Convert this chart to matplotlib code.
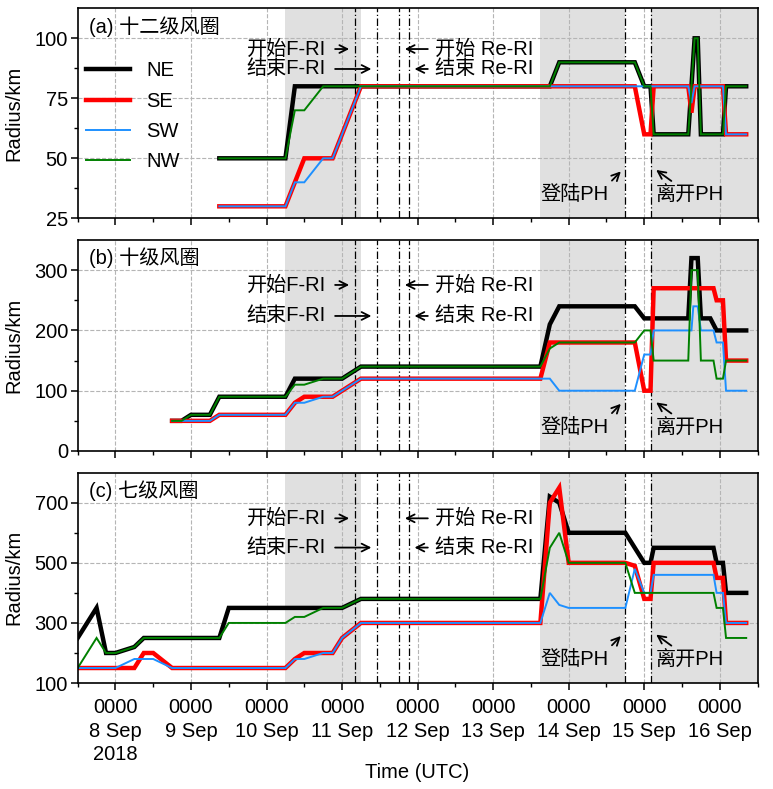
import matplotlib
matplotlib.use("Agg")
import matplotlib.pyplot as plt
import matplotlib.transforms as mtransforms

plt.rcParams['font.family'] = ['Liberation Sans', 'Noto Sans CJK SC', 'DejaVu Sans']
FS = 14.5
plt.rcParams['font.size'] = FS

# x in days since 2018-09-08 00 UTC
# ---------------- panel (a) 十二级风圈 ----------------
a_ne_t = [1.375, 2.25, 2.375, 5.75, 5.875, 6.875, 7.0, 7.083, 7.125, 7.583, 7.667, 7.708, 7.75, 8.042, 8.083, 8.35]
a_ne_r = [50, 50, 80, 80, 90, 90, 80, 80, 60, 60, 100, 100, 60, 60, 80, 80]
a_se_t = [1.375, 2.25, 2.375, 2.5, 2.875, 3.25, 6.875, 7.0, 7.083, 7.125, 7.583, 7.625, 7.667, 8.042, 8.083, 8.35]
a_se_r = [30, 30, 40, 50, 50, 80, 80, 60, 60, 80, 80, 69, 80, 80, 60, 60]
a_sw_t = [1.375, 2.25, 2.375, 2.5, 2.75, 2.875, 3.25, 7.583, 7.625, 7.667, 8.042, 8.083, 8.35]
a_sw_r = [30, 30, 40, 40, 50, 50, 80, 80, 73, 80, 80, 60, 60]
a_nw_t = [1.375, 2.25, 2.375, 2.5, 2.75, 5.75, 5.875, 6.875, 7.0, 7.083, 7.125, 7.583, 7.667, 7.708, 7.75, 8.042, 8.083, 8.35]
a_nw_r = [50, 50, 70, 70, 80, 80, 90, 90, 80, 80, 60, 60, 100, 100, 60, 60, 80, 80]

# ---------------- panel (b) 十级风圈 ----------------
b_ne_t = [0.75, 0.875, 1.0, 1.25, 1.375, 2.25, 2.375, 3.0, 3.25, 5.625, 5.75, 5.875, 6.875, 7.0, 7.583, 7.625, 7.708, 7.75, 7.875, 7.958, 8.35]
b_ne_r = [50, 50, 60, 60, 90, 90, 120, 120, 140, 140, 210, 240, 240, 220, 220, 320, 320, 220, 220, 200, 200]
b_se_t = [0.75, 1.25, 1.375, 2.25, 2.375, 2.5, 2.875, 3.0, 3.25, 5.625, 5.75, 6.875, 7.0, 7.083, 7.125, 7.917, 7.958, 8.042, 8.083, 8.35]
b_se_r = [50, 50, 60, 60, 80, 90, 90, 100, 120, 120, 180, 180, 100, 100, 270, 270, 250, 250, 150, 150]
b_sw_t = [0.75, 1.25, 1.375, 2.25, 2.375, 2.5, 2.75, 2.875, 3.0, 3.25, 5.75, 5.875, 6.875, 7.0, 7.083, 7.125, 7.625, 7.65, 7.708, 7.75, 7.917, 7.958, 8.042, 8.083, 8.35]
b_sw_r = [50, 50, 60, 60, 80, 80, 90, 90, 100, 120, 120, 100, 100, 160, 160, 200, 200, 240, 240, 200, 200, 180, 180, 100, 100]
b_nw_t = [0.75, 0.875, 1.0, 1.25, 1.375, 2.25, 2.375, 2.5, 2.75, 3.0, 3.25, 5.625, 5.75, 5.875, 6.875, 7.0, 7.083, 7.125, 7.583, 7.625, 7.708, 7.75, 7.917, 7.958, 8.042, 8.083, 8.35]
b_nw_r = [50, 50, 60, 60, 90, 90, 110, 110, 120, 120, 140, 140, 170, 180, 180, 200, 200, 150, 150, 300, 300, 150, 150, 120, 120, 150, 150]

# ---------------- panel (c) 七级风圈 ----------------
c_ne_t = [-0.5, -0.25, -0.125, 0.0, 0.25, 0.375, 1.375, 1.5, 3.0, 3.25, 5.625, 5.75, 5.875, 6.0, 6.75, 7.0, 7.083, 7.125, 7.917, 7.958, 8.042, 8.083, 8.35]
c_ne_r = [250, 350, 200, 200, 220, 250, 250, 350, 350, 380, 380, 720, 700, 600, 600, 500, 500, 550, 550, 500, 500, 400, 400]
c_se_t = [-0.5, 0.25, 0.375, 0.5, 0.75, 2.25, 2.375, 2.5, 2.875, 3.0, 3.25, 5.625, 5.75, 5.875, 6.0, 6.75, 6.875, 7.0, 7.083, 7.125, 7.917, 7.958, 8.042, 8.083, 8.35]
c_se_r = [150, 150, 200, 200, 150, 150, 180, 200, 200, 250, 300, 300, 700, 750, 500, 500, 490, 380, 380, 500, 500, 450, 450, 300, 300]
c_sw_t = [-0.5, 0.0, 0.25, 0.5, 0.75, 2.25, 2.375, 2.5, 2.75, 2.875, 3.0, 3.25, 5.625, 5.75, 5.875, 6.0, 6.75, 6.875, 7.0, 7.083, 7.125, 7.917, 7.958, 8.042, 8.083, 8.35]
c_sw_r = [150, 150, 180, 180, 150, 150, 180, 180, 200, 200, 250, 300, 300, 400, 360, 350, 350, 480, 400, 400, 460, 460, 400, 400, 300, 300]
c_nw_t = [-0.5, -0.25, -0.125, 0.0, 0.25, 0.375, 1.375, 1.5, 2.25, 2.375, 2.5, 2.75, 3.0, 3.25, 5.625, 5.75, 5.875, 6.0, 6.75, 6.875, 7.917, 7.958, 8.042, 8.083, 8.35]
c_nw_r = [150, 250, 200, 200, 220, 250, 250, 300, 300, 320, 320, 350, 350, 380, 380, 550, 600, 500, 500, 400, 400, 350, 350, 250, 250]

# events (days since 8 Sep 00 UTC)
fri_start, fri_end = 3.17, 3.46
reri_start, reri_end = 3.75, 3.88
landfall, leave = 6.74, 7.083
shade_spans = [(2.25, 3.25), (5.625, 6.74), (7.083, 8.5)]

day_ticks = [0, 1, 2, 3, 4, 5, 6, 7, 8]
day_labels = ['0000\n8 Sep\n2018', '0000\n9 Sep', '0000\n10 Sep', '0000\n11 Sep', '0000\n12 Sep',
              '0000\n13 Sep', '0000\n14 Sep', '0000\n15 Sep', '0000\n16 Sep']

panel_titles = ['(a) 十二级风圈', '(b) 十级风圈', '(c) 七级风圈']
direction_names = ['NE', 'SE', 'SW', 'NW']
colors = ['black', '#ff0000', '#1e90ff', '#008000']
widths = [3.2, 3.2, 1.4, 1.4]

panels = [
    [(a_ne_t, a_ne_r), (a_se_t, a_se_r), (a_sw_t, a_sw_r), (a_nw_t, a_nw_r)],
    [(b_ne_t, b_ne_r), (b_se_t, b_se_r), (b_sw_t, b_sw_r), (b_nw_t, b_nw_r)],
    [(c_ne_t, c_ne_r), (c_se_t, c_se_r), (c_sw_t, c_sw_r), (c_nw_t, c_nw_r)],
]
ylims = [(25, 112.5), (0, 350), (100, 800)]
ymajor = [[25, 50, 75, 100], [0, 100, 200, 300], [100, 300, 500, 700]]
yminor = [[37.5, 62.5, 87.5], [50, 150, 250], [200, 400, 600]]
ri_text_y = [(0.806, 0.711), (0.787, 0.640), (0.783, 0.644)]

fig = plt.figure(figsize=(7.73, 7.89), dpi=100)
boxes = [(0.1005, 0.7233, 0.8795, 0.2662), (0.1005, 0.4284, 0.8795, 0.2674), (0.1005, 0.1343, 0.8795, 0.2666)]
axes = [fig.add_axes(b) for b in boxes]

arrow_kw = dict(arrowstyle='->', color='black', lw=1.3, mutation_scale=14)

for i, ax in enumerate(axes):
    ax.set_axisbelow(True)
    for (s0, s1) in shade_spans:
        ax.axvspan(s0, s1, color='#e0e0e0', zorder=0.2, lw=0)
    ax.grid(True, which='major', ls='--', color='#b5b5b5', lw=0.8)
    for xv in [fri_start, fri_end, reri_start, reri_end, landfall, leave]:
        ax.axvline(xv, color='black', ls=(0, (6, 2, 1, 2)), lw=0.9, zorder=1.5)
    handles = []
    for j, (t, r) in enumerate(panels[i]):
        h, = ax.plot(t, r, color=colors[j], lw=widths[j], zorder=2 + j * 0.1,
                     solid_joinstyle='miter', label=direction_names[j])
        handles.append(h)
    ax.set_xlim(-0.5, 8.35)
    ax.set_ylim(*ylims[i])
    ax.set_xticks(day_ticks)
    ax.set_xticks([d + 0.5 for d in range(-1, 9)], minor=True)
    ax.set_yticks(ymajor[i])
    ax.set_yticks(yminor[i], minor=True)
    ax.tick_params(axis='both', which='major', direction='out', length=5, width=1.1, labelsize=FS, pad=6)
    ax.tick_params(axis='both', which='minor', direction='out', length=3, width=1.0)
    ax.tick_params(axis='y', which='major', pad=2)
    for sp in ax.spines.values():
        sp.set_linewidth(1.2)
    if i < 2:
        ax.set_xticklabels([])
    else:
        ax.set_xticklabels(day_labels)
        for lab in ax.get_xticklabels():
            lab.set_linespacing(1.3)
        ax.set_xlabel('Time (UTC)', fontsize=FS, labelpad=-1)
    ax.set_ylabel('Radius/km', fontsize=FS, labelpad=8)
    ax.text(0.016, 0.915, panel_titles[i], transform=ax.transAxes, fontsize=FS, va='center', ha='left')

    tr = mtransforms.blended_transform_factory(ax.transData, ax.transAxes)
    y1, y2 = ri_text_y[i]
    ax.text(2.784, y1, '开始F-RI', transform=tr, ha='right', va='center', fontsize=FS)
    ax.text(2.784, y2, '结束F-RI', transform=tr, ha='right', va='center', fontsize=FS)
    ax.annotate('', xy=(3.131, y1), xytext=(2.871, y1), xycoords=tr, textcoords=tr, arrowprops=arrow_kw)
    ax.annotate('', xy=(3.425, y2), xytext=(2.871, y2), xycoords=tr, textcoords=tr, arrowprops=arrow_kw)
    ax.text(4.228, y1, '开始 Re-RI', transform=tr, ha='left', va='center', fontsize=FS)
    ax.text(4.228, y2, '结束 Re-RI', transform=tr, ha='left', va='center', fontsize=FS)
    ax.annotate('', xy=(3.794, y1), xytext=(4.172, y1), xycoords=tr, textcoords=tr, arrowprops=arrow_kw)
    ax.annotate('', xy=(3.922, y2), xytext=(4.172, y2), xycoords=tr, textcoords=tr, arrowprops=arrow_kw)

    ax.text(6.534, 0.112, '登陆PH', transform=tr, ha='right', va='center', fontsize=FS)
    ax.annotate('', xy=(6.716, 0.233), xytext=(6.547, 0.17), xycoords=tr, textcoords=tr, arrowprops=arrow_kw)
    ax.text(7.154, 0.112, '离开PH', transform=tr, ha='left', va='center', fontsize=FS)
    ax.annotate('', xy=(7.128, 0.238), xytext=(7.389, 0.17), xycoords=tr, textcoords=tr, arrowprops=arrow_kw)

    if i == 0:
        ax.legend(handles=handles, loc='upper left', bbox_to_anchor=(0.0, 0.785), frameon=False,
                  fontsize=FS, handlelength=2.2, handletextpad=0.8, labelspacing=0.55,
                  borderaxespad=0.0, borderpad=0.4)

fig.savefig('out.png', dpi=100)
